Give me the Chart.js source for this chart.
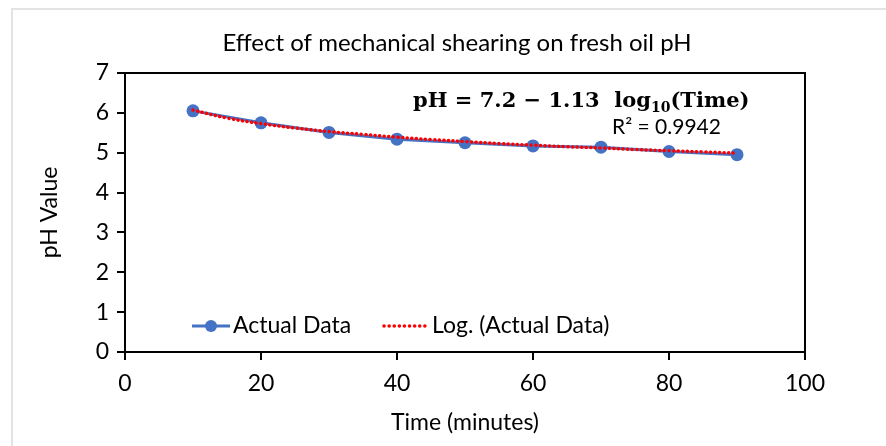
<!DOCTYPE html>
<html><head><meta charset="utf-8">
<style>html,body{margin:0;padding:0;background:#fff;}#wrap{width:886px;height:446px;position:relative;}</style>
<script src="https://cdn.jsdelivr.net/npm/chart.js@4"></script>
</head><body><div id="wrap"><canvas id="c" width="886" height="446"></canvas></div>
<script>
const chartTitle = "Effect of mechanical shearing on fresh oil pH";
const xTitle = "Time (minutes)";
const yTitle = "pH Value";
const timeMin = [10, 20, 30, 40, 50, 60, 70, 80, 90];
const phActual = [6.05, 5.75, 5.51, 5.34, 5.25, 5.17, 5.14, 5.03, 4.95];
const trendTime = [10, 15, 20, 25, 30, 35, 40, 45, 50, 55, 60, 65, 70, 75, 80, 85, 90];
const trendPh = [6.07, 5.87, 5.73, 5.62, 5.53, 5.46, 5.39, 5.33, 5.28, 5.23, 5.19, 5.15, 5.12, 5.08, 5.05, 5.02, 4.99];
const seriesLabels = ["Actual Data", "Log. (Actual Data)"];
const eqParts = ["pH = 7.2 \u2212 1.13  log", "10", "(Time)"];
const r2Text = "R\u00B2 = 0.9942";

const FONT = "Lato";
const BLUE = "#4472C4";
const RED = "#FF0000";

const framePlugin = {
  id: 'frame',
  beforeDraw(chart) {
    const ctx = chart.ctx;
    ctx.save();
    ctx.fillStyle = '#fff';
    ctx.fillRect(0, 0, chart.width, chart.height);
    ctx.strokeStyle = '#e3e3e3';
    ctx.lineWidth = 2;
    ctx.strokeRect(12, 9, 900, 460);
    ctx.restore();
  },
  afterDraw(chart) {
    const ctx = chart.ctx, a = chart.chartArea;
    ctx.save();
    ctx.strokeStyle = '#000';
    ctx.lineWidth = 2;
    ctx.beginPath();
    ctx.moveTo(a.left, a.top); ctx.lineTo(a.right, a.top); ctx.lineTo(a.right, a.bottom);
    ctx.stroke();
    ctx.fillStyle = '#000';
    ctx.font = "24px " + FONT;
    ctx.textAlign = 'center'; ctx.textBaseline = 'middle';
    ctx.fillText(chartTitle, 457, 43);
    ctx.textAlign = 'left'; ctx.textBaseline = 'alphabetic';
    let x = 413, y = 107;
    ctx.font = "bold 21px 'DejaVu Serif'";
    ctx.fillText(eqParts[0], x, y); x += ctx.measureText(eqParts[0]).width;
    ctx.font = "bold 14px 'DejaVu Serif'";
    ctx.fillText(eqParts[1], x, y + 5); x += ctx.measureText(eqParts[1]).width;
    ctx.font = "bold 21px 'DejaVu Serif'";
    ctx.fillText(eqParts[2], x, y);
    ctx.font = "21px " + FONT;
    ctx.textAlign = 'left'; ctx.textBaseline = 'middle';
    ctx.fillText(r2Text, 612, 127);
    const ly = 326;
    ctx.strokeStyle = BLUE; ctx.lineWidth = 3; ctx.setLineDash([]);
    ctx.beginPath(); ctx.moveTo(192, ly); ctx.lineTo(230, ly); ctx.stroke();
    ctx.fillStyle = BLUE;
    ctx.beginPath(); ctx.arc(211, ly, 6, 0, Math.PI * 2); ctx.fill();
    ctx.fillStyle = '#000';
    ctx.font = "23px " + FONT;
    ctx.fillText(seriesLabels[0], 233, ly);
    ctx.strokeStyle = RED; ctx.lineWidth = 3.5; ctx.lineCap = 'round'; ctx.setLineDash([0.1, 5]);
    ctx.beginPath(); ctx.moveTo(384, ly); ctx.lineTo(428, ly); ctx.stroke();
    ctx.setLineDash([]);
    ctx.fillText(seriesLabels[1], 432, ly);
    ctx.restore();
  }
};

new Chart(document.getElementById('c'), {
  type: 'line',
  data: {
    datasets: [
      {
        label: seriesLabels[1],
        data: trendTime.map((t, i) => ({x: t, y: trendPh[i]})),
        borderColor: RED, borderWidth: 3.5, borderDash: [0.1, 4.5], borderCapStyle: 'round',
        pointRadius: 0, tension: 0.4, order: 0, fill: false
      },
      {
        label: seriesLabels[0],
        data: timeMin.map((t, i) => ({x: t, y: phActual[i]})),
        borderColor: BLUE, backgroundColor: BLUE, borderWidth: 3,
        pointRadius: 6.5, pointBorderWidth: 0, pointBackgroundColor: BLUE,
        tension: 0, order: 1, fill: false
      }
    ]
  },
  options: {
    responsive: false, animation: false, devicePixelRatio: 1,
    layout: {padding: {top: 73, left: 12, right: 81, bottom: 0}},
    plugins: {legend: {display: false}, tooltip: {enabled: false}, title: {display: false}},
    scales: {
      x: {
        type: 'linear', min: 0, max: 100,
        ticks: {stepSize: 20, color: '#000', font: {family: FONT, size: 23}, padding: 10, maxRotation: 0},
        grid: {display: true, drawOnChartArea: false, drawTicks: true, tickLength: 8, color: '#000', lineWidth: 2},
        border: {display: true, color: '#000', width: 2},
        title: {display: true, text: xTitle, color: '#000', font: {family: FONT, size: 23}, padding: {top: 4, bottom: 10}},
        afterFit(s) { s.height = 94; }
      },
      y: {
        min: 0, max: 7,
        ticks: {stepSize: 1, color: '#000', font: {family: FONT, size: 23}, padding: 8},
        grid: {display: true, drawOnChartArea: false, drawTicks: true, tickLength: 8, color: '#000', lineWidth: 2},
        border: {display: true, color: '#000', width: 2},
        title: {display: true, text: yTitle, color: '#000', font: {family: FONT, size: 23}, padding: {top: 24, bottom: 0}},
        afterFit(s) { s.width = 113; }
      }
    }
  },
  plugins: [framePlugin]
});
</script></body></html>
